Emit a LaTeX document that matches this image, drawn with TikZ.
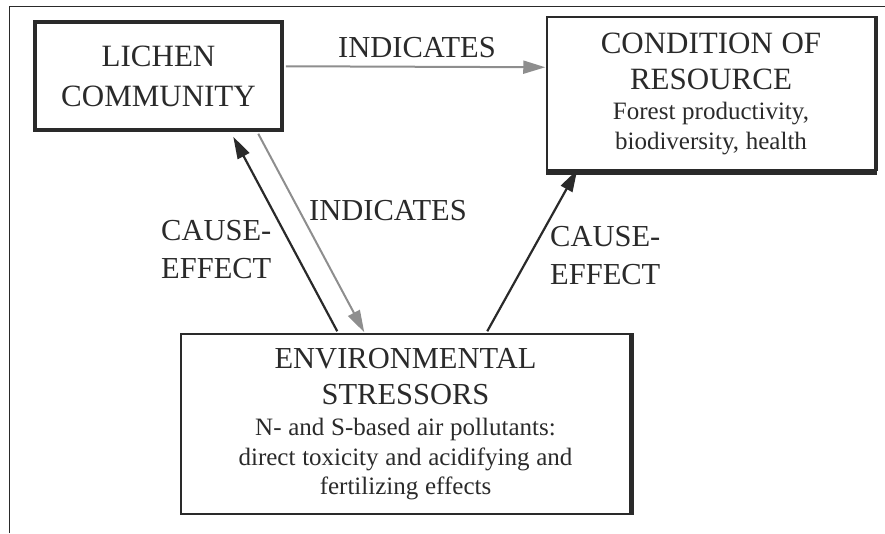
\documentclass[tikz,border=0pt]{standalone}
\usepackage{fontspec}
\setmainfont{Liberation Serif}
\usetikzlibrary{arrows.meta,calc}
\definecolor{ink}{HTML}{2A2A2A}
\definecolor{arrgray}{HTML}{8E8E8E}
\begin{document}
\begin{tikzpicture}[x=1pt,y=-1pt,
  box/.style={draw=ink, rectangle, inner sep=0pt, align=center, text=ink},
  lbl/.style={text=ink, font=\fontsize{30.5}{38}\selectfont, inner sep=0pt, align=left},
  blackarr/.style={draw=ink, line width=2.2pt, -{Triangle[length=22pt,width=13pt]}},
  grayarr/.style={draw=arrgray, line width=2pt, -{Triangle[length=22pt,width=13pt]}},
]
\useasboundingbox (0,0) rectangle (885,533);
\draw[ink, line width=1pt] (9,533) -- (9,6) -- (885,6);

\node[box, line width=3.5pt, minimum width=247pt, minimum height=108pt,
      font=\fontsize{31}{40}\selectfont] (lichen) at (158.5,76)
  {LICHEN\\COMMUNITY};

\node[box, line width=1.5pt, minimum width=328pt, minimum height=153pt, text width=320pt] (cond) at (711,93.5)
  {{\fontsize{31}{36}\selectfont\spaceskip=0.28em\relax CONDITION OF\\ RESOURCE\par}
   {\fontsize{25}{30}\selectfont\spaceskip=0.27em\relax Forest productivity,\\ biodiversity, health\par}};
\draw[ink, line width=5pt] ($(cond.south west)+(0,1.5)$) -- ($(cond.south east)+(1.5,1.5)$);
\draw[ink, line width=3pt] ($(cond.north east)+(1,0)$) -- ($(cond.south east)+(1,0)$);

\node[box, line width=1.5pt, minimum width=449pt, minimum height=180pt, text width=440pt] (env) at (405.5,424)
  {{\fontsize{30.5}{36}\selectfont ENVIRONMENTAL\\ STRESSORS\par}\vspace{2pt}
   {\fontsize{25}{29.5}\selectfont\spaceskip=0.27em\relax N- and S-based air pollutants:\\ direct toxicity and acidifying and\\ fertilizing effects\par}};
\draw[ink, line width=4pt] ($(env.north east)+(1.5,0)$) -- ($(env.south east)+(1.5,0)$);

% connectors
\draw[grayarr] ($(lichen.north east)+(2,46)$) -- ($(cond.north west)+(-1,51)$);
\draw[grayarr] ($(lichen.south west)+(225,2)$) -- ($(env.north west)+(184,-1)$);
\draw[blackarr] ($(env.north west)+(157,-2)$) -- ($(lichen.south west)+(200,5)$);
\draw[blackarr] ($(env.north west)+(307,-2)$) -- ($(cond.south west)+(31,-1)$);

% labels
\node[lbl] (lind1) at (417,48) {INDICATES};
\node[lbl] (lind2) at (388,211) {INDICATES};
\node[lbl, anchor=north west] (lce1) at (161,220) {CAUSE-\\EFFECT};
\node[lbl, anchor=north west] (lce2) at (550,226) {CAUSE-\\EFFECT};
\end{tikzpicture}
\end{document}
